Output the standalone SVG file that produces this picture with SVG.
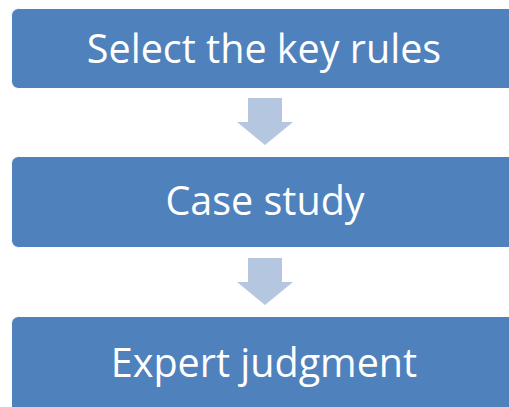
<svg xmlns="http://www.w3.org/2000/svg" width="509" height="407" viewBox="0 0 509 407">
<style>
.box{fill:#4F81BD;stroke:#FFFFFF;stroke-width:1}
.lbl{font-family:"Open Sans","Liberation Sans",sans-serif;font-size:39.5px;fill:#FFFFFF;text-anchor:middle}
.arr{fill:#B4C6E0}
</style>
<rect x="0" y="0" width="509" height="407" fill="#FFFFFF"/>
<g id="connectors">
<polygon class="arr" points="248,98 282,98 282,122 293,122 265,145 237,122 248,122"/>
<polygon class="arr" points="248,258 282,258 282,282 293,282 265,305 237,282 248,282"/>
</g>
<g id="node1">
<rect class="box" x="11.5" y="8.5" width="510" height="80" rx="7"/>
<text class="lbl" x="264" y="63">Select the key rules</text>
</g>
<g id="node2">
<rect class="box" x="11.5" y="156.5" width="510" height="91" rx="7"/>
<text class="lbl" x="265" y="215">Case study</text>
</g>
<g id="node3">
<rect class="box" x="11.5" y="316.5" width="510" height="100" rx="7"/>
<text class="lbl" x="264" y="377">Expert judgment</text>
</g>
</svg>
